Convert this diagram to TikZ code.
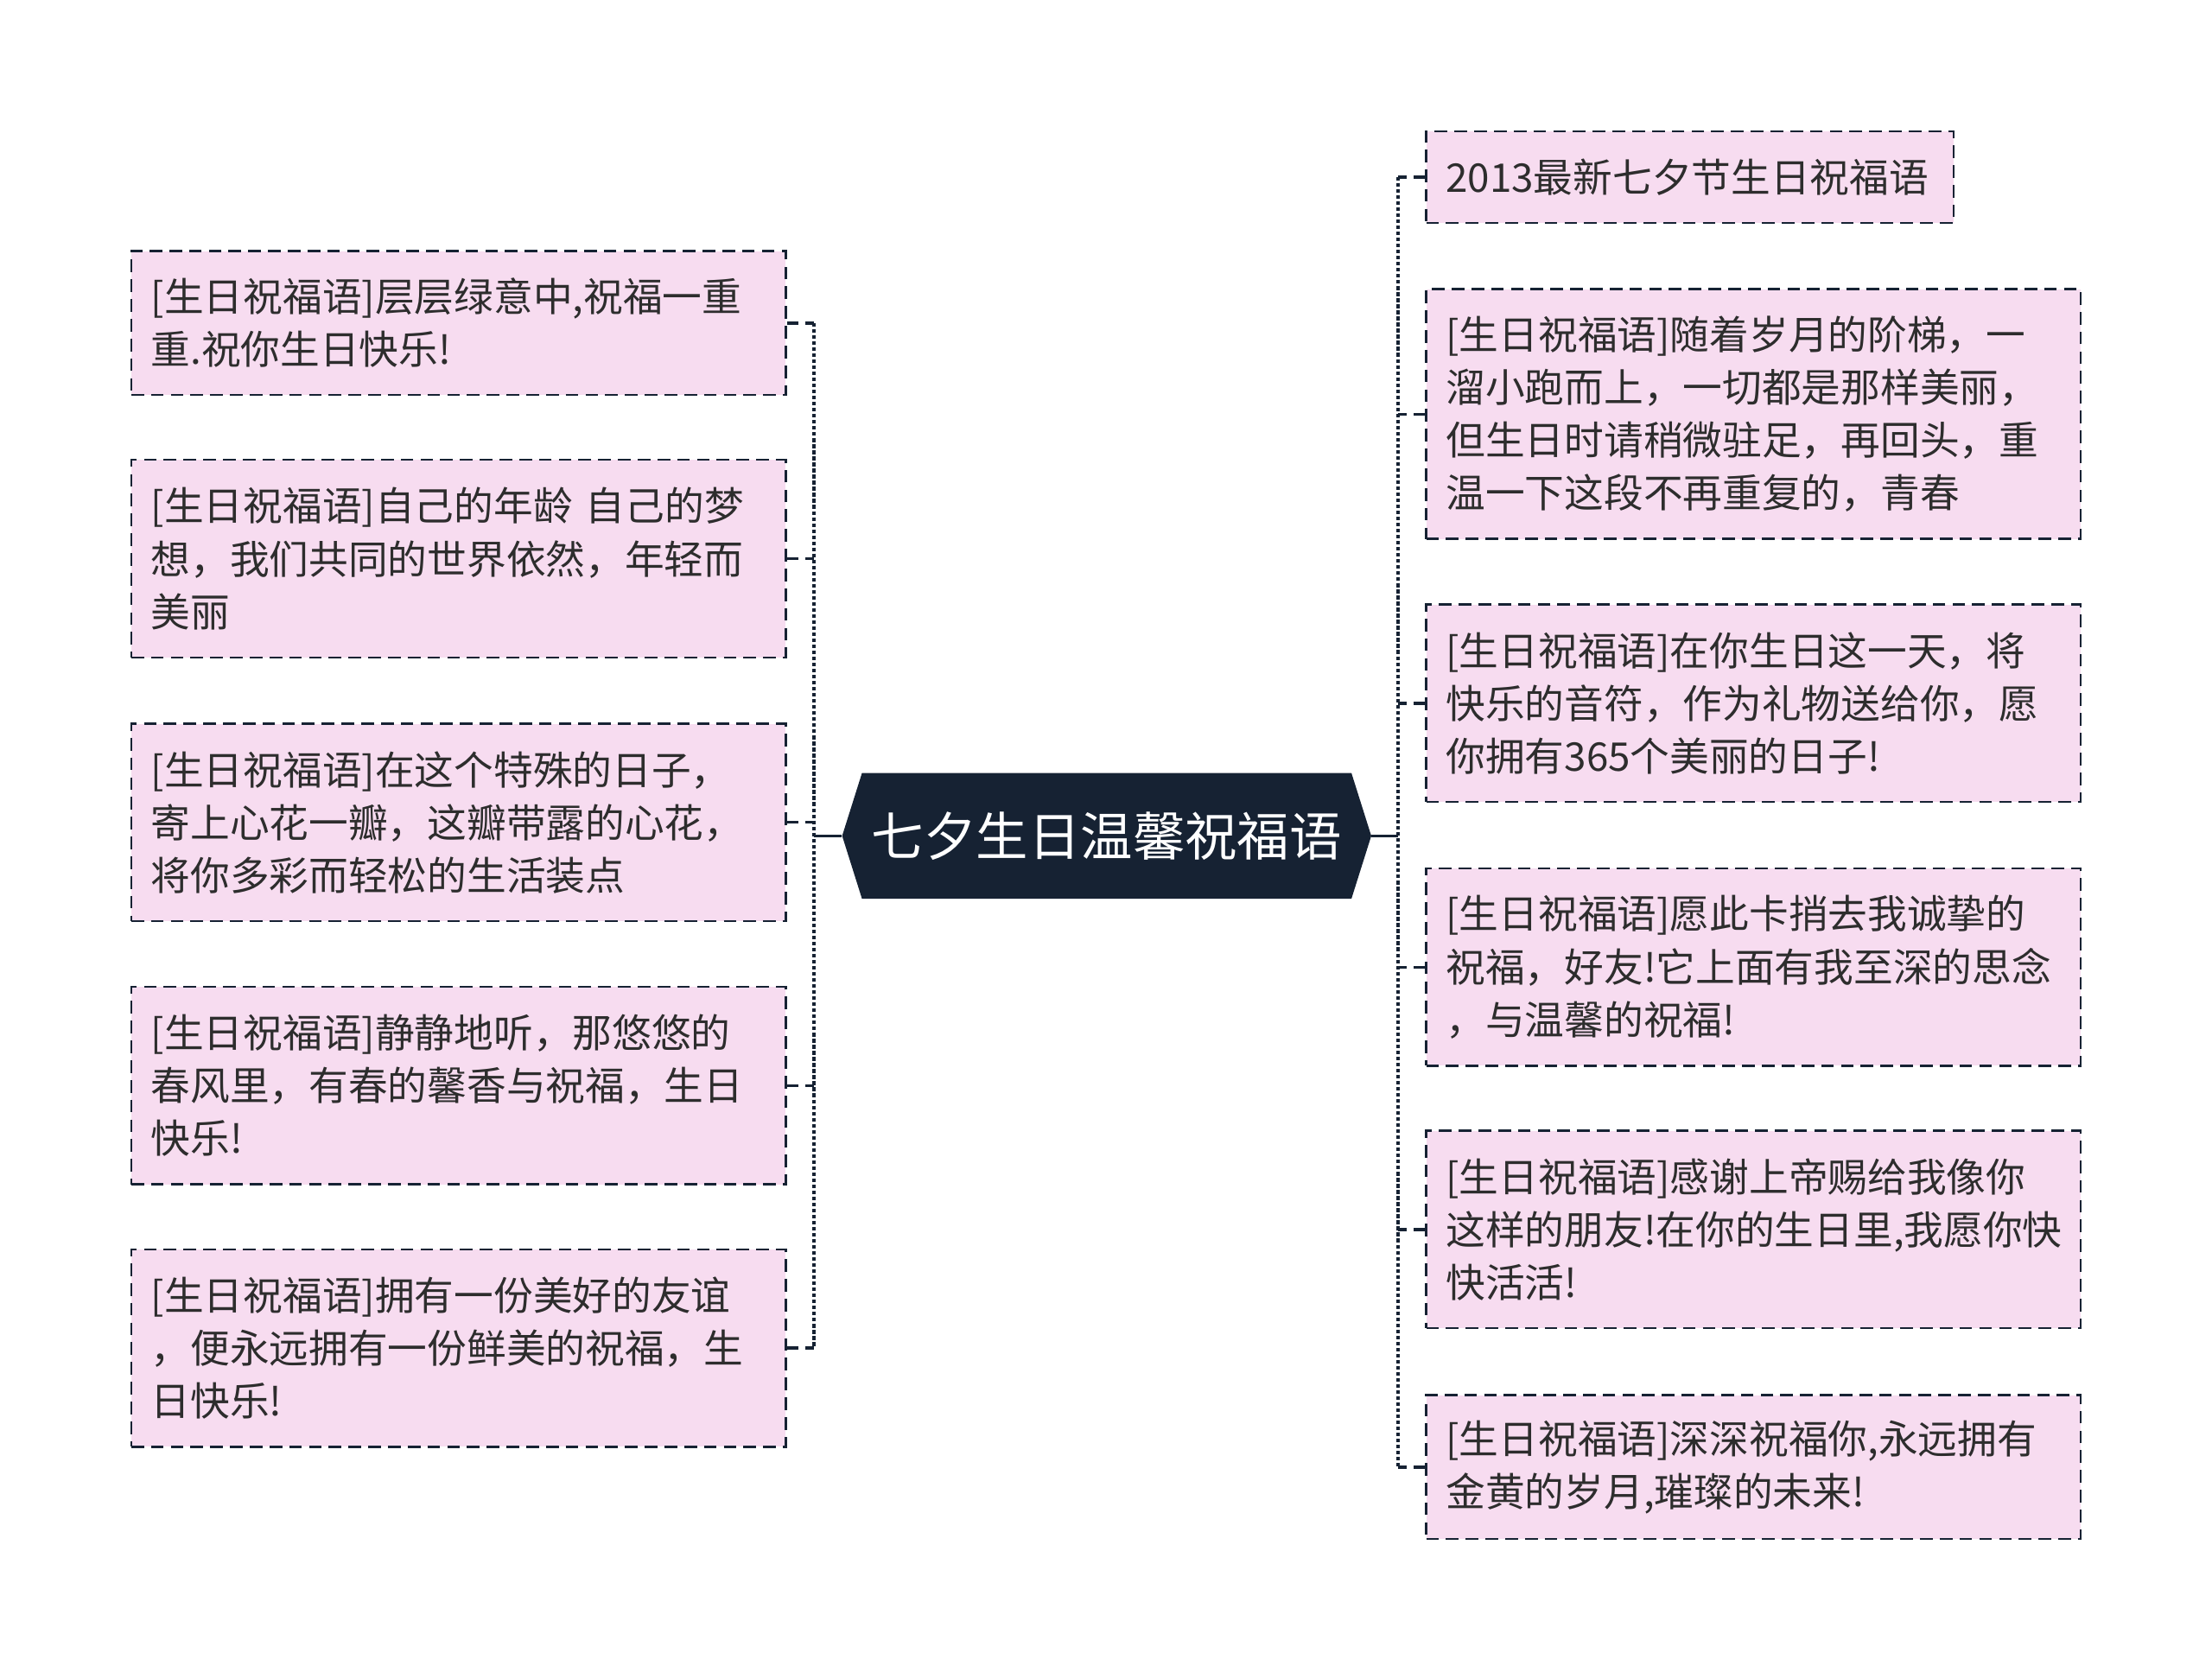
\documentclass[tikz,border=0pt]{standalone}
\usepackage{fontspec}
\setmainfont{Noto Sans CJK SC}
\usepackage{xcolor}
\usepackage{tikz}
\usetikzlibrary{shapes.symbols}
\definecolor{leafpink}{RGB}{247,220,240}
\definecolor{navy}{RGB}{22,34,51}
\definecolor{leaftext}{RGB}{45,45,45}

\begin{document}
\begin{tikzpicture}[
    x=1pt, y=-1pt,
    leafbox/.style={
        draw=navy, fill=leafpink, text=leaftext,
        line width=1.5pt, dash pattern=on 9pt off 5pt,
        minimum width=464pt, text width=436pt, inner xsep=14pt,
        align=left, anchor=center,
        font=\fontsize{28pt}{37.5pt}\selectfont
    },
    rootbox/.style={
        shape=signal, signal to=west and east, signal pointer angle=145,
        fill=navy, text=white, draw=none,
        minimum width=375pt, minimum height=89pt, inner xsep=7pt,
        font=\fontsize{37pt}{44pt}\selectfont
    },
    spine/.style={navy, line width=2.6pt, dash pattern=on 2.6pt off 1.7pt},
    tickline/.style={navy, line width=2pt, dash pattern=on 8pt off 5pt},
    trunkline/.style={navy, line width=2.2pt}
]
    \useasboundingbox (0,0) rectangle (1568,1185);

    \node[rootbox] (root) at (784.5,592.5) {七夕生日温馨祝福语};

    \node[leafbox, minimum height=102pt] (L1) at (325,229)
        {[生日祝福语]层层绿意中,祝福一重\\重.祝你生日快乐!};
    \node[leafbox, minimum height=140pt] (L2) at (325,396)
        {[生日祝福语]自己的年龄 自己的梦\\想，我们共同的世界依然，年轻而\\美丽};
    \node[leafbox, minimum height=140pt] (L3) at (325,583)
        {[生日祝福语]在这个特殊的日子，\\寄上心花一瓣，这瓣带露的心花，\\将你多彩而轻松的生活装点};
    \node[leafbox, minimum height=140pt] (L4) at (325,769.5)
        {[生日祝福语]静静地听，那悠悠的\\春风里，有春的馨香与祝福，生日\\快乐!};
    \node[leafbox, minimum height=140pt] (L5) at (325,955.5)
        {[生日祝福语]拥有一份美好的友谊\\，便永远拥有一份鲜美的祝福，生\\日快乐!};

    \node[leafbox, minimum height=65pt, minimum width=374pt, text width=346pt] (R1) at (1198,125.5)
        {2013最新七夕节生日祝福语};
    \node[leafbox, minimum height=177pt] (R2) at (1243,293.5)
        {[生日祝福语]随着岁月的阶梯，一\\溜小跑而上，一切都是那样美丽，\\但生日时请稍微驻足，再回头，重\\温一下这段不再重复的，青春};
    \node[leafbox, minimum height=140pt] (R3) at (1243,498.5)
        {[生日祝福语]在你生日这一天，将\\快乐的音符，作为礼物送给你，愿\\你拥有365个美丽的日子!};
    \node[leafbox, minimum height=140pt] (R4) at (1243,685.5)
        {[生日祝福语]愿此卡捎去我诚挚的\\祝福，好友!它上面有我至深的思念\\，与温馨的祝福!};
    \node[leafbox, minimum height=140pt] (R5) at (1243,871.5)
        {[生日祝福语]感谢上帝赐给我像你\\这样的朋友!在你的生日里,我愿你快\\快活活!};
    \node[leafbox, minimum height=102pt] (R6) at (1243,1040)
        {[生日祝福语]深深祝福你,永远拥有\\金黄的岁月,璀璨的未来!};

    \coordinate (lspine) at (577,592.5);
    \coordinate (rspine) at (991,592.5);

    \draw[trunkline] (root.west) -- (lspine);
    \draw[trunkline] (root.east) -- (rspine);

    \draw[spine] (L1.east -| lspine) -- (L5.east -| lspine);
    \draw[spine] (R1.west -| rspine) -- (R6.west -| rspine);

    \foreach \leaf in {L1,L2,L3,L4,L5}
        \draw[tickline] (\leaf.east) -- (\leaf.east -| lspine);
    \foreach \leaf in {R1,R2,R3,R4,R5,R6}
        \draw[tickline] (\leaf.west) -- (\leaf.west -| rspine);
\end{tikzpicture}
\end{document}
